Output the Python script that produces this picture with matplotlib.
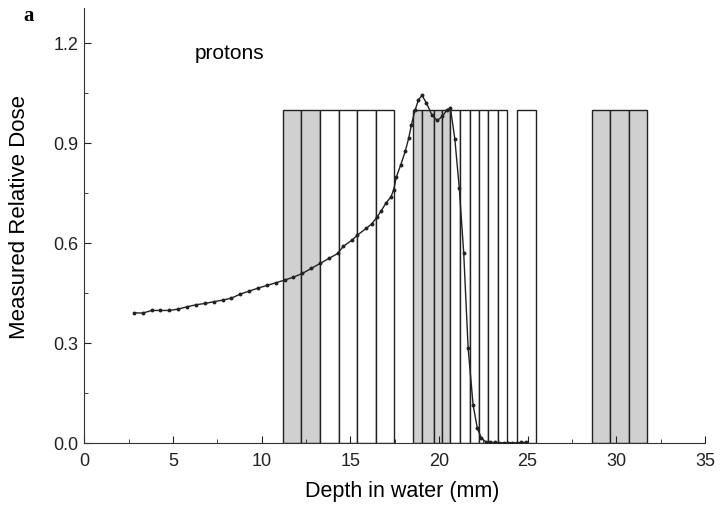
import matplotlib
matplotlib.use("Agg")
import matplotlib.pyplot as plt
from matplotlib.ticker import MultipleLocator

# measured depth-dose curve
depth_mm = [2.8, 3.3, 3.8, 4.3, 4.8, 5.3, 5.8, 6.3, 6.8, 7.3, 7.8, 8.3, 8.8, 9.3,
            9.8, 10.3, 10.8, 11.3, 11.8, 12.3, 12.8, 13.3, 13.8, 14.3, 14.6, 15.1,
            15.4, 15.9, 16.2, 16.5, 16.75, 17.0, 17.3, 17.45, 17.6, 17.85, 18.1,
            18.3, 18.45, 18.65, 18.85, 19.05, 19.3, 19.6, 19.9, 20.2, 20.45, 20.65,
            20.9, 21.15, 21.4, 21.65, 21.93, 22.17, 22.4, 22.64, 22.9, 23.15, 23.4,
            23.65, 23.9, 24.15, 24.4, 24.65, 24.9]
dose = [0.391, 0.390, 0.398, 0.398, 0.398, 0.402, 0.409, 0.415, 0.419, 0.424, 0.429,
        0.435, 0.447, 0.456, 0.465, 0.473, 0.481, 0.489, 0.498, 0.509, 0.524, 0.539,
        0.554, 0.569, 0.590, 0.609, 0.624, 0.644, 0.657, 0.677, 0.697, 0.719, 0.739,
        0.760, 0.798, 0.835, 0.875, 0.915, 0.955, 0.998, 1.030, 1.043, 1.020, 0.985,
        0.968, 0.980, 1.000, 1.005, 0.912, 0.765, 0.570, 0.284, 0.114, 0.044, 0.015,
        0.004, 0.002, 0.002, 0.001, 0.001, 0.001, 0.001, 0.001, 0.002, 0.002]

# detector cells: left edge, right edge, shaded?
cell_left = [11.2, 12.2, 13.29, 14.38, 15.40, 16.47,
             18.55, 19.06, 19.71, 20.18,
             20.65, 21.21, 21.74, 22.26, 22.79, 23.36,
             24.43,
             28.63, 29.65, 30.73]
cell_right = [12.2, 13.29, 14.38, 15.40, 16.47, 17.49,
              19.06, 19.71, 20.18, 20.65,
              21.21, 21.74, 22.26, 22.79, 23.36, 23.84,
              25.45,
              29.65, 30.73, 31.75]
cell_gray = [True, True, False, False, False, False,
             True, True, True, True,
             False, False, False, False, False, False,
             False,
             True, True, True]
cell_height = 1.0

plt.rcParams['font.family'] = ['Liberation Sans', 'DejaVu Sans']

fig = plt.figure(figsize=(7.2, 5.07), dpi=100)
ax = fig.add_axes([0.117, 0.126, 0.862, 0.858])

widths = [r - l for l, r in zip(cell_left, cell_right)]
colors = ['#d0d0d0' if g else 'white' for g in cell_gray]
ax.bar(cell_left, [cell_height] * len(cell_left), width=widths, align='edge',
       color=colors, edgecolor='#222222', linewidth=1.0, zorder=1)

ax.plot(depth_mm, dose, '-', color='#222222', linewidth=1.0,
        marker='o', markersize=1.8, zorder=3)

ax.set_xlim(0, 35)
ax.set_ylim(0, 1.305)
ax.xaxis.set_major_locator(MultipleLocator(5))
ax.xaxis.set_minor_locator(MultipleLocator(2.5))
ax.yaxis.set_major_locator(MultipleLocator(0.3))
ax.yaxis.set_minor_locator(MultipleLocator(0.15))
ax.yaxis.set_major_formatter(plt.FuncFormatter(lambda v, p: f"{v:.1f}"))
ax.tick_params(which='both', direction='in', labelsize=13, colors='#222222')
ax.tick_params(which='major', length=5)
ax.tick_params(which='minor', length=3)
ax.tick_params(axis='x', pad=7)
ax.tick_params(axis='y', pad=4)
for s in ['top', 'right']:
    ax.spines[s].set_visible(False)
for s in ['left', 'bottom']:
    ax.spines[s].set_color('#333333')

ax.set_xlabel("Depth in water (mm)", fontsize=15.5)
ax.set_ylabel("Measured Relative Dose", fontsize=16)
ax.xaxis.set_label_coords(0.512, -0.088)
ax.yaxis.set_label_coords(-0.088, 0.52)
ax.text(8.2, 1.17, "protons", fontsize=15, ha='center', va='center')
fig.text(0.039, 0.968, "a", fontsize=15, fontweight='bold',
         family='Liberation Serif', ha='center', va='center')

fig.savefig("out.png", dpi=100)
